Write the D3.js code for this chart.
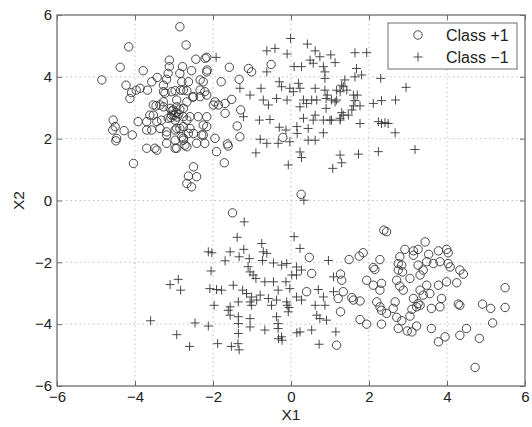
<!DOCTYPE html>
<html>
<head>
<meta charset="utf-8">
<script src="https://cdn.jsdelivr.net/npm/d3@7"></script>
<style>
  html, body { margin: 0; padding: 0; background: #fff; }
  svg { display: block; }
  text { font-family: "Liberation Sans", Arial, sans-serif; fill: #222; }
</style>
</head>
<body>
<svg id="chart" width="532" height="427"></svg>
<script>
// ---- data ----
const xTicks = [-6, -4, -2, 0, 2, 4, 6];
const yTicks = [-6, -4, -2, 0, 2, 4, 6];
const seriesNames = ["Class +1", "Class \u22121"];

// Class +1 (circles)
const posPoints = [
  [-2.85,5.62],[-2.69,5.03],[-4.16,4.97],[-4.38,4.31],[-4.85,3.90],[-3.79,4.20],[-3.12,4.54],[-3.12,4.33],
  [-3.15,4.11],[-2.78,4.33],[-2.44,4.57],[-2.20,4.60],[-2.55,4.20],[-2.85,4.11],[-2.16,4.16],[-4.23,3.73],
  [-4.09,3.49],[-4.13,3.30],[-3.97,3.57],[-3.87,3.63],[-3.68,3.57],[-3.57,3.84],[-3.43,3.98],[-3.19,3.92],
  [-3.27,3.73],[-2.80,3.84],[-2.63,3.84],[-2.83,3.57],[-2.67,3.55],[-2.97,3.55],[-3.23,3.47],[-2.52,3.34],
  [-2.33,3.90],[-2.25,3.84],[-2.33,3.57],[-2.16,3.41],[-3.53,3.09],[-3.46,3.06],[-3.05,2.90],[-2.95,2.85],
  [-3.00,2.75],[-2.88,2.80],[-2.92,2.70],[-2.85,2.95],[-3.08,2.68],[-3.27,3.19],[-3.36,3.09],[-3.62,2.76],
  [-3.92,2.55],[-4.56,2.60],[-4.51,2.39],[-4.57,2.28],[-4.28,2.26],[-4.47,2.01],[-4.49,1.93],[-4.07,2.12],
  [-3.70,2.55],[-3.57,2.28],[-3.32,2.60],[-3.36,2.33],[-3.19,2.12],[-3.19,1.85],[-2.97,1.69],[-3.70,1.69],
  [-3.44,1.63],[-2.97,2.28],[-2.85,2.33],[-2.80,2.06],[-2.72,1.79],[-2.76,1.95],[-2.63,2.17],[-2.50,2.17],
  [-2.67,2.60],[-2.76,2.71],[-2.38,2.71],[-2.16,2.71],[-2.29,2.12],[-2.21,1.85],[-2.16,2.39],[-4.04,1.20],
  [-2.50,1.09],[-2.63,0.79],[-2.42,0.77],[-2.67,0.55],[-2.55,0.44],
  [-3.27,3.03],[-3.10,2.98],[-3.02,2.93],[-2.93,3.03],[-3.06,2.76],[-2.76,2.98],[-3.15,2.66],[-2.97,2.60],
  [-3.53,2.76],[-3.44,2.55],[-3.70,2.28],[-3.19,2.22],[-2.93,2.33],[-2.76,2.39],[-2.59,2.33],[-2.59,2.71],
  [-2.25,2.44],[-2.42,1.85],[-3.49,1.69],[-2.97,1.95],[-2.76,2.01],[-2.67,1.74],[-2.93,1.69],[-1.99,3.09],
  [-1.95,3.19],[-2.50,3.36],[-2.33,3.36],[-2.76,3.57],[-3.06,3.52],[-3.27,3.52],[-2.93,3.25],[-2.67,3.19],
  [-1.91,1.58],
  [-2.16,4.63],[-2.15,4.22],[-2.21,3.52],[-1.58,4.31],[-1.09,4.27],[-1.01,4.16],[-1.79,3.84],[-1.33,3.92],
  [-0.51,4.40],[-1.86,3.09],[-1.69,3.14],[-1.52,3.27],[-1.69,2.82],[-1.29,2.93],[-2.25,2.12],[-1.95,2.01],
  [-1.38,2.41],[-1.31,2.06],[-1.63,1.83],[-1.61,1.76],[-1.71,1.22],[-0.21,2.04],[0.26,0.20],
  [-1.50,-0.40],[0.47,-1.84],[0.53,-2.36],[0.40,-2.95],
  [2.38,-0.96],[2.45,-1.01],[3.44,-1.34],[2.92,-1.58],[3.14,-1.63],[3.26,-1.58],[3.78,-1.63],[3.99,-1.58],
  [4.03,-1.69],[1.85,-1.69],[1.75,-1.80],[1.49,-1.91],[2.28,-1.91],[2.79,-1.82],[2.75,-2.04],[3.14,-1.77],
  [3.53,-1.74],[3.48,-1.98],[3.65,-2.04],[3.82,-1.98],[4.03,-2.04],[4.08,-2.15],[2.11,-2.17],[2.15,-2.23],
  [2.84,-2.09],[2.75,-2.25],[2.86,-2.31],[3.26,-2.09],[3.39,-2.25],[3.31,-2.41],[4.33,-2.25],[4.42,-2.38],
  [1.27,-2.38],[1.30,-2.58],[1.94,-2.58],[2.11,-2.74],[2.32,-2.68],[2.28,-2.90],[2.71,-2.58],[2.79,-2.77],
  [2.88,-2.90],[3.05,-2.52],[3.48,-2.74],[3.78,-2.74],[3.99,-2.63],[4.25,-2.66],[3.31,-2.90],[3.56,-3.01],
  [3.39,-3.06],[1.34,-2.95],[1.21,-3.17],[1.56,-3.14],[1.60,-3.22],[1.77,-3.25],[2.20,-3.28],[2.28,-3.44],
  [2.32,-3.55],[2.67,-3.28],[2.62,-3.49],[2.45,-3.65],[3.14,-3.17],[3.26,-3.33],[3.22,-3.44],[3.31,-3.39],
  [3.10,-3.52],[3.60,-3.49],[3.82,-3.44],[3.86,-3.17],[4.29,-3.35],[4.33,-3.39],[4.91,-3.35],[5.12,-3.49],
  [5.49,-2.82],[5.49,-3.46],[5.17,-3.96],[1.27,-3.60],[1.77,-3.85],[1.94,-4.00],[2.32,-4.00],[2.71,-3.78],
  [2.84,-3.89],[3.05,-3.74],[2.75,-4.14],[2.98,-4.22],[3.10,-4.25],[3.22,-4.06],[3.60,-4.14],[3.78,-4.57],
  [3.95,-4.41],[4.33,-4.36],[4.50,-4.14],[4.83,-4.46],[4.72,-5.40],[1.17,-4.68]
];

// Class -1 (pluses)
const negPoints = [
  [-1.92,4.63],[-0.01,5.24],[-0.62,4.84],[-0.41,4.92],[-0.10,4.74],[0.42,5.06],[0.62,4.84],[0.74,4.65],
  [0.49,4.54],[0.57,4.44],[1.02,4.71],[1.13,4.46],[0.83,4.33],[0.87,4.16],[0.87,3.95],[1.64,4.78],
  [1.94,4.78],[1.68,4.27],[1.64,4.00],[1.81,4.06],[1.38,3.90],[1.34,3.68],[1.43,3.57],[1.17,3.57],
  [0.08,4.33],[0.27,4.33],[-0.62,4.16],[-1.31,3.63],[-1.05,3.41],[-0.77,3.63],[-0.30,3.84],[-0.24,3.68],
  [-0.03,3.63],[0.19,3.79],[0.23,3.63],[0.06,3.52],[0.62,3.63],[0.87,3.57],[0.93,3.41],[0.32,3.25],
  [0.40,3.14],[0.53,3.25],[0.66,3.25],[0.23,3.03],[-0.71,3.25],[-0.58,3.09],[-0.37,3.30],[-0.10,3.25],
  [0.90,3.30],[0.90,2.98],[1.04,3.25],[1.17,3.25],[1.60,3.41],[1.64,3.23],[1.77,3.06],[1.56,2.93],
  [-1.22,2.71],[-0.81,2.60],[-0.54,2.62],[-0.30,2.37],[-0.13,2.28],[0.15,2.39],[0.16,2.17],[0.32,2.66],
  [0.44,2.33],[0.57,2.60],[0.62,2.76],[0.83,2.60],[1.00,2.60],[1.26,2.66],[1.34,2.76],[1.77,2.49],
  [0.83,2.19],[-0.79,1.98],[-0.62,1.85],[-0.33,1.85],[-0.03,1.90],[0.44,1.95],[0.62,1.95],[-0.90,1.54],
  [0.23,1.57],[0.27,1.39],[-0.07,1.15],[1.26,1.47],[1.30,1.22],[1.07,1.04],[1.73,1.50],
  [2.30,3.95],[2.95,3.66],[1.30,3.73],[1.26,3.52],[1.70,3.41],[1.13,3.19],[1.60,3.06],[2.11,3.14],
  [2.32,3.23],[2.68,3.25],[1.30,2.84],[1.26,2.60],[1.47,2.76],[1.04,2.60],[2.24,2.55],[2.32,2.49],
  [2.41,2.52],[2.49,2.49],[2.67,2.19],[3.18,1.65],[2.24,1.58],
  [0.33,0.01],[-1.20,-0.69],[-1.38,-1.19],[0.08,-1.17],[0.23,-1.55],[-2.12,-1.66],[-2.03,-1.69],[-1.56,-1.66],
  [-1.69,-1.95],[-1.33,-1.82],[-1.21,-1.58],[-0.75,-1.39],[-0.71,-1.66],[-0.62,-1.71],[-1.07,-1.88],[-1.10,-2.14],
  [-1.05,-2.31],[-0.97,-2.41],[-0.90,-2.52],[-0.73,-1.94],[-0.45,-2.02],[-0.24,-2.09],[-0.11,-2.04],[0.14,-2.15],
  [0.27,-2.25],[0.96,-1.94],[-2.05,-2.28],[-3.10,-2.72],[-2.89,-2.55],[-2.83,-2.90],[-2.08,-2.85],[-1.91,-2.88],
  [-1.78,-2.90],[-1.48,-2.74],[-1.24,-2.90],[-1.14,-3.01],[-1.01,-3.12],[-0.88,-3.22],[-0.79,-3.06],[-0.67,-2.63],
  [-0.45,-2.63],[-0.33,-2.90],[-0.13,-2.63],[-0.03,-2.85],[0.02,-2.41],[0.14,-2.41],[-0.58,-3.17],[-0.37,-3.22],
  [-0.11,-3.28],[0.14,-3.12],[0.27,-3.22],[0.70,-2.88],[0.83,-3.12],[0.62,-3.39],[0.87,-3.39],[-1.97,-3.39],
  [-1.56,-3.44],[-1.61,-3.55],[-1.35,-3.28],[-1.05,-3.28],[-1.01,-3.39],[-0.50,-3.39],[-0.10,-3.39],[-0.05,-3.46],
  [-0.07,-3.60],[0.66,-3.71],[0.74,-3.82],[0.91,-3.87],[-1.56,-3.71],[-1.35,-3.76],[-1.35,-3.98],[-1.05,-3.82],
  [-0.37,-3.76],[-0.33,-3.98],[-0.67,-4.19],[-0.33,-4.14],[-2.46,-3.96],[-2.12,-4.06],[-3.60,-3.89],[-2.93,-4.34],
  [-1.35,-4.30],[-1.05,-4.09],[0.23,-4.25],[0.53,-4.19],[-0.24,-4.41],[-2.60,-4.72],[-1.88,-4.63],[-1.53,-4.72],
  [-1.36,-4.63],[-1.33,-4.83],[-0.32,-4.47],[-0.23,-4.52],[0.15,-4.28],[0.72,-4.65],[1.15,-4.25],
  [1.09,-2.47],[1.09,-2.95]
];

// ---- layout ----
const M = { left: 57, right: 525, top: 15, bottom: 386 };
const svg = d3.select("#chart");
const x = d3.scaleLinear().domain([-6, 6]).range([M.left, M.right]);
const y = d3.scaleLinear().domain([-6, 6]).range([M.bottom, M.top]);

// grid
const grid = svg.append("g");
grid.selectAll("line.gx").data(xTicks.slice(1, -1)).join("line")
  .attr("x1", d => x(d)).attr("x2", d => x(d)).attr("y1", M.top).attr("y2", M.bottom)
  .attr("stroke", "#b0b0b0").attr("stroke-width", 0.8).attr("stroke-dasharray", "1.5,3");
grid.selectAll("line.gy").data(yTicks.slice(1, -1)).join("line")
  .attr("y1", d => y(d)).attr("y2", d => y(d)).attr("x1", M.left).attr("x2", M.right)
  .attr("stroke", "#b0b0b0").attr("stroke-width", 0.8).attr("stroke-dasharray", "1.5,3");

// points
const markColor = "#363636";
svg.append("g").selectAll("circle").data(posPoints).join("circle")
  .attr("cx", d => x(d[0])).attr("cy", d => y(d[1])).attr("r", 4.2)
  .attr("fill", "none").attr("stroke", markColor).attr("stroke-width", 0.9);
const plusPath = "M-4.5,0H4.5M0,-4.5V4.5";
svg.append("g").selectAll("path").data(negPoints).join("path")
  .attr("transform", d => `translate(${x(d[0])},${y(d[1])})`)
  .attr("d", plusPath).attr("fill", "none").attr("stroke", markColor).attr("stroke-width", 0.9);

// axes (ticks inward, box on)
const fmt = d => d < 0 ? "\u2212" + Math.abs(d) : String(d);
const axColor = "#6e6e6e";
const ax = svg.append("g");
const xb = ax.append("g").attr("transform", `translate(0,${M.bottom})`)
  .call(d3.axisBottom(x).tickValues(xTicks).tickSize(-5).tickPadding(5).tickFormat(fmt));
const xt = ax.append("g").attr("transform", `translate(0,${M.top})`)
  .call(d3.axisTop(x).tickValues(xTicks).tickSize(-5).tickFormat(""));
const yl = ax.append("g").attr("transform", `translate(${M.left},0)`)
  .call(d3.axisLeft(y).tickValues(yTicks).tickSize(-5).tickPadding(5).tickFormat(fmt));
const yr = ax.append("g").attr("transform", `translate(${M.right},0)`)
  .call(d3.axisRight(y).tickValues(yTicks).tickSize(-5).tickFormat(""));
[xb, xt, yl, yr].forEach(g => {
  g.select(".domain").remove();
  g.selectAll(".tick line").attr("stroke", axColor).attr("stroke-width", 1);
  g.selectAll(".tick text").attr("font-size", 15).attr("fill", "#222")
    .attr("font-family", "'Liberation Sans', Arial, sans-serif");
});
svg.append("rect").attr("x", M.left).attr("y", M.top)
  .attr("width", M.right - M.left).attr("height", M.bottom - M.top)
  .attr("fill", "none").attr("stroke", axColor).attr("stroke-width", 1.3);

// axis labels
svg.append("text").attr("x", (M.left + M.right) / 2).attr("y", 420).attr("text-anchor", "middle")
  .attr("font-size", 15.5).text("X1");
svg.append("text").attr("transform", `translate(24,${(M.top + M.bottom) / 2}) rotate(-90)`)
  .attr("text-anchor", "middle").attr("font-size", 15.5).text("X2");

// legend
const lg = svg.append("g");
lg.append("rect").attr("x", 388).attr("y", 23).attr("width", 129).attr("height", 46)
  .attr("fill", "#fff").attr("stroke", axColor).attr("stroke-width", 1);
lg.append("circle").attr("cx", 418).attr("cy", 35).attr("r", 4.2)
  .attr("fill", "none").attr("stroke", markColor).attr("stroke-width", 0.9);
lg.append("path").attr("transform", "translate(418,57)").attr("d", plusPath)
  .attr("fill", "none").attr("stroke", markColor).attr("stroke-width", 0.9);
lg.append("text").attr("x", 446).attr("y", 41).attr("font-size", 16).text(seriesNames[0]);
lg.append("text").attr("x", 446).attr("y", 63).attr("font-size", 16).text(seriesNames[1]);
</script>
</body>
</html>
